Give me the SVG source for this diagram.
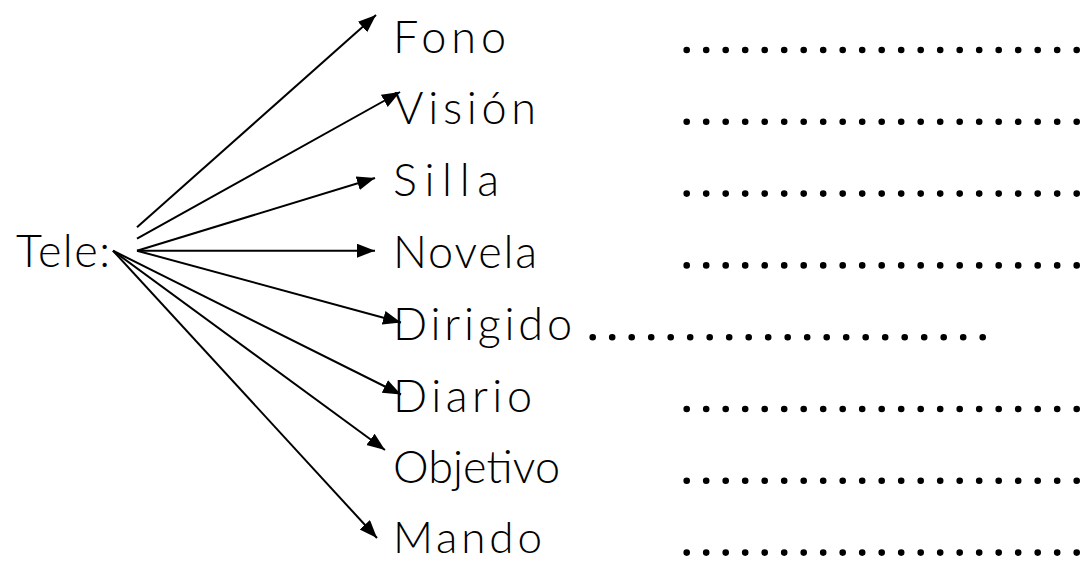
<svg xmlns="http://www.w3.org/2000/svg" width="1080" height="561" viewBox="0 0 1080 561">
<style>
.t{font-family:"Lato","Liberation Sans",sans-serif;font-weight:300;font-size:45px;fill:#000}
.c{stroke:#000;stroke-width:2;fill:none;marker-end:url(#ah)}
.d{stroke:#000;stroke-width:6.6;stroke-linecap:round;stroke-dasharray:0 19.5;fill:none}
</style>
<defs>
<marker id="ah" markerUnits="userSpaceOnUse" markerWidth="19" markerHeight="15" refX="18" refY="7" orient="auto">
<path d="M0,0 L18,7 L0,14 z" fill="#000"/>
</marker>
</defs>
<rect width="1080" height="561" fill="#fff"/>
<g id="tele"><text class="t" x="16" y="266.7" textLength="94" lengthAdjust="spacing">Tele:</text></g>
<g id="connectors">
<path class="c" d="M137,227.3 L376,15"/>
<path class="c" d="M137,238.7 L400,92"/>
<path class="c" d="M137,250.7 L375,178"/>
<path class="c" d="M137,250.7 L375,250.7"/>
<path class="c" d="M137,250.7 L401,322.5"/>
<path class="c" d="M113,250.7 L401,394.5"/>
<path class="c" d="M113,250.7 L385,450"/>
<path class="c" d="M113,250.7 L377,538"/>
</g>
<g id="fono"><text class="t" x="393" y="52.5" textLength="113" lengthAdjust="spacing">Fono</text><path class="d" d="M686.7,50 H1077"/></g>
<g id="vision"><text class="t" x="394" y="124.3" textLength="142" lengthAdjust="spacing">Visión</text><path class="d" d="M686.7,121.8 H1077"/></g>
<g id="silla"><text class="t" x="393" y="196.1" textLength="106" lengthAdjust="spacing">Silla</text><path class="d" d="M686.7,193.6 H1077"/></g>
<g id="novela"><text class="t" x="393" y="267.9" textLength="144" lengthAdjust="spacing">Novela</text><path class="d" d="M686.7,265.4 H1077"/></g>
<g id="dirigido"><text class="t" x="393" y="339.7" textLength="179" lengthAdjust="spacing">Dirigido</text><path class="d" d="M592.7,337.2 H983"/></g>
<g id="diario"><text class="t" x="393" y="411.5" textLength="139" lengthAdjust="spacing">Diario</text><path class="d" d="M686.7,409 H1077"/></g>
<g id="objetivo"><text class="t" x="393" y="483.3" textLength="167" lengthAdjust="spacing">Objetivo</text><path class="d" d="M686.7,480.8 H1077"/></g>
<g id="mando"><text class="t" x="393" y="552.5" textLength="149" lengthAdjust="spacing" style="font-size:44px">Mando</text><path class="d" d="M686.7,552.6 H1077"/></g>
</svg>
